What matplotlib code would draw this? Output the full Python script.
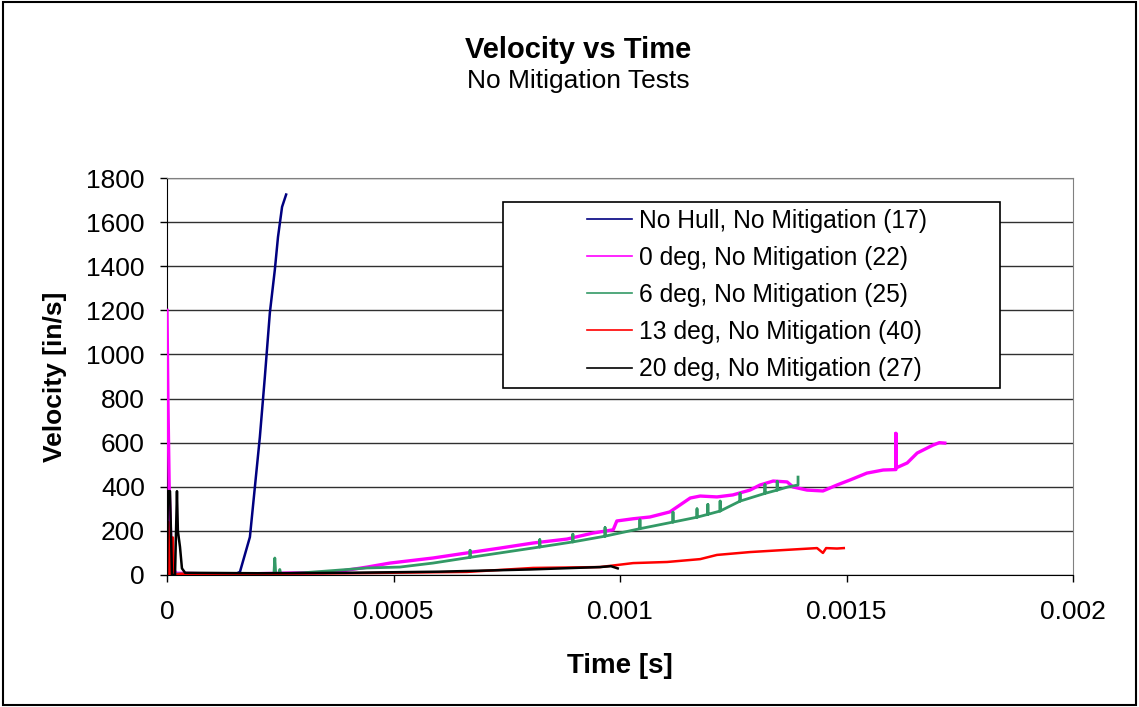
import numpy as np
import matplotlib
matplotlib.use('Agg')
import matplotlib.pyplot as plt
from matplotlib.patches import Rectangle

plt.rcParams['font.family'] = ['Liberation Sans', 'DejaVu Sans']

# values (time in s, velocity in in/s)
labels = ['No Hull, No Mitigation (17)', '0 deg, No Mitigation (22)',
          '6 deg, No Mitigation (25)', '13 deg, No Mitigation (40)',
          '20 deg, No Mitigation (27)']
colors = ['#000080', '#FF00FF', '#339966', '#FF0000', '#000000']

t_hull = [0.0001, 0.00013, 0.00015, 0.000161, 0.000183, 0.000194, 0.000205, 0.000216,
          0.000227, 0.000238, 0.000245, 0.000254, 0.000263]
v_hull = [4, 6, 3, 14, 172, 399, 626, 898, 1188, 1383, 1532, 1669, 1725]

t_0deg = [0, 0.000002, 0.000005, 0.00001, 0.00002, 0.0001, 0.0002, 0.0003, 0.000366,
          0.000442, 0.000492, 0.000587, 0.000662, 0.000735, 0.000808, 0.000883, 0.00094,
          0.000985, 0.000993, 0.001029, 0.001066, 0.00111, 0.001155, 0.001177, 0.001214,
          0.001249, 0.001287, 0.001309, 0.001338, 0.001369, 0.001382, 0.001413, 0.001448,
          0.001479, 0.001508, 0.001545, 0.001581, 0.001609, 0.001609, 0.001609, 0.001634,
          0.001656, 0.001691, 0.001705, 0.001717]
v_0deg = [1200, 800, 380, 40, 8, 5, 6, 10, 12, 36, 54, 77, 100, 122, 145, 163, 190,
          205, 245, 255, 263, 286, 349, 358, 354, 363, 385, 408, 426, 422, 399, 385, 381,
          408, 431, 462, 476, 478, 642, 485, 508, 553, 589, 600, 598]

t_6deg = [0.00002, 0.0002, 0.000236, 0.000238, 0.00024, 0.000247, 0.000249, 0.000251,
          0.0003, 0.000366, 0.000442, 0.000514, 0.000587, 0.000669, 0.000669, 0.000669,
          0.000735, 0.000823, 0.000823, 0.000823, 0.000896, 0.000896, 0.000896,
          0.000967, 0.000967, 0.000967, 0.001044, 0.001044, 0.001044, 0.001117, 0.001117,
          0.001117, 0.00117, 0.00117, 0.00117, 0.001194, 0.001194, 0.001194, 0.001221,
          0.001221, 0.001221, 0.001265, 0.001265, 0.001265, 0.00132, 0.00132, 0.00132,
          0.001347, 0.001347, 0.001347, 0.00137, 0.001393, 0.001393]
v_6deg = [5, 5, 5, 77, 5, 5, 25, 5, 10, 20, 32, 36, 54, 80, 112, 80, 100, 127, 160,
          127, 150, 185, 150, 176, 215, 176, 210, 250, 210, 240, 285, 240, 262, 300, 262,
          275, 320, 275, 290, 335, 290, 335, 370, 335, 370, 410, 370, 385, 425, 385, 399,
          408, 444]

t_13deg = [0, 0.000003, 0.000006, 0.000008, 0.000013, 0.000015, 0.00003, 0.0002, 0.0004,
           0.000662, 0.000808, 0.000956, 0.001029, 0.001104, 0.001177, 0.001214, 0.001287,
           0.00136, 0.001435, 0.001448, 0.001455, 0.001479, 0.001494]
v_13deg = [0, 240, 0, 170, 170, 0, 5, 5, 8, 14, 32, 36, 54, 59, 72, 91, 104, 113, 122,
           100, 122, 120, 122]

t_20deg = [0, 0.000002, 0.0000066, 0.000011, 0.0000177, 0.000022, 0.000024, 0.0000287,
           0.000033, 0.00004, 0.0002, 0.0004, 0.0006, 0.0008, 0.000956, 0.00098, 0.000995]
v_20deg = [0, 380, 380, 0, 0, 380, 200, 127, 30, 10, 8, 10, 15, 25, 36, 40, 30]

series = [(t_hull, v_hull), (t_0deg, v_0deg), (t_6deg, v_6deg),
          (t_13deg, v_13deg), (t_20deg, v_20deg)]
widths = [1.8, 2.4, 2.0, 1.8, 1.8]

x_ticks = [0, 0.0005, 0.001, 0.0015, 0.002]
x_ticklabels = ['0', '0.0005', '0.001', '0.0015', '0.002']
y_ticks = [0, 200, 400, 600, 800, 1000, 1200, 1400, 1600, 1800]

fig = plt.figure(figsize=(11.39, 7.07), dpi=100)
ax = fig.add_axes([167 / 1139, 1 - 575 / 707, 906 / 1139, 397 / 707])

for (t, v), c, lab, w in zip(series, colors, labels, widths):
    ax.plot(t, v, color=c, lw=w, label=lab, zorder=3)

ax.set_xlim(0, 0.002)
ax.set_ylim(0, 1800)
ax.set_xticks(x_ticks)
ax.set_xticklabels(x_ticklabels)
ax.set_yticks(y_ticks)
ax.tick_params(axis='both', direction='out', length=5, width=1, labelsize=19)
ax.tick_params(axis='y', pad=11)
ax.tick_params(axis='x', pad=13)
ax.grid(axis='y', color='#303030', lw=1, zorder=1)
ax.set_axisbelow(True)
for s in ['top', 'right']:
    ax.spines[s].set_color('#808080')
for s in ['left', 'bottom']:
    ax.spines[s].set_color('#000000')

ax.set_xlabel('Time [s]', fontsize=20, fontweight='bold')
ax.set_ylabel('Velocity [in/s]', fontsize=19, fontweight='bold')
ax.xaxis.label.set_va('center')
ax.yaxis.label.set_va('center')
ax.xaxis.set_label_coords(0.5, (575 - 666) / 397)
ax.yaxis.set_label_coords((55 - 167) / 906, 0.5)

# legend box
x0 = (503 - 167) / 906
y1 = (575 - 202) / 397
y0 = (575 - 388) / 397
x1 = (1000 - 167) / 906
ax.add_patch(Rectangle((x0, y0), x1 - x0, y1 - y0, transform=ax.transAxes,
                       facecolor='white', edgecolor='black', lw=1.2, zorder=5))
leg = ax.legend(loc='upper left', bbox_to_anchor=((587 - 167) / 906, (575 - 209) / 397),
                frameon=False, fontsize=17.7, handlelength=1.83, handletextpad=0.28,
                labelspacing=0.53, borderpad=0, borderaxespad=0)
leg.set_zorder(6)
for h in leg.get_lines():
    h.set_linewidth(1.2)

fig.text(578 / 1139, 1 - 58 / 707, 'Velocity vs Time', ha='center', va='baseline',
         fontsize=21, fontweight='bold')
fig.text(578 / 1139, 1 - 88 / 707, 'No Mitigation Tests', ha='center', va='baseline',
         fontsize=19)

fig.patches.append(Rectangle((3 / 1139, 2 / 707), 1133 / 1139, 703 / 707,
                             transform=fig.transFigure, fill=False, edgecolor='black',
                             lw=1.5))

fig.savefig('out.png', dpi=100)
